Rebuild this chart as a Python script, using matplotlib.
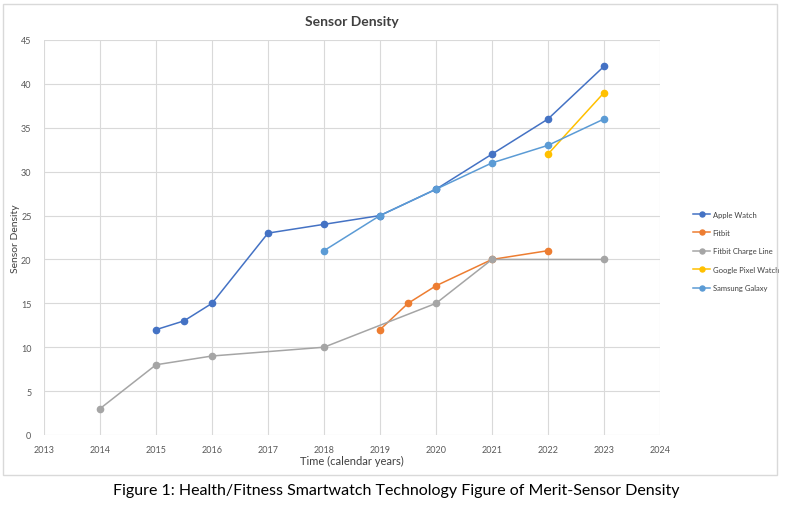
import matplotlib.pyplot as plt
from matplotlib.patches import Rectangle

# data
apple_x = [2015, 2015.5, 2016, 2017, 2018, 2019, 2020, 2021, 2022, 2023]
apple_y = [12, 13, 15, 23, 24, 25, 28, 32, 36, 42]
fitbit_x = [2019, 2019.5, 2020, 2021, 2022]
fitbit_y = [12, 15, 17, 20, 21]
charge_x = [2014, 2015, 2016, 2018, 2020, 2021, 2023]
charge_y = [3, 8, 9, 10, 15, 20, 20]
pixel_x = [2022, 2023]
pixel_y = [32, 39]
samsung_x = [2018, 2019, 2020, 2021, 2022, 2023]
samsung_y = [21, 25, 28, 31, 33, 36]

series = [
    ('Apple Watch', apple_x, apple_y, '#4472C4'),
    ('Fitbit', fitbit_x, fitbit_y, '#ED7D31'),
    ('Fitbit Charge Line', charge_x, charge_y, '#A5A5A5'),
    ('Google Pixel Watch', pixel_x, pixel_y, '#FFC000'),
    ('Samsung Galaxy', samsung_x, samsung_y, '#5B9BD5'),
]

plt.rcParams['font.family'] = ['Lato', 'DejaVu Sans']

fig = plt.figure(figsize=(7.92, 5.06), dpi=100)
W, H = 792, 506

# outer chart frame
fig.patches.append(Rectangle((3 / W, 1 - 476 / H), 774 / W, 471 / H,
                             transform=fig.transFigure, fill=False,
                             edgecolor='#D9D9D9', linewidth=1))

ax = fig.add_axes([44 / W, 1 - 436 / H, 616 / W, 395 / H])
for name, xs, ys, c in series:
    ax.plot(xs, ys, '-o', color=c, lw=1.1, ms=4.5, label=name, zorder=3)

ax.set_xlim(2013, 2024)
ax.set_ylim(0, 45)
ax.set_xticks(range(2013, 2025))
ax.set_yticks(range(0, 46, 5))
ax.grid(True, color='#D9D9D9', lw=0.8)
ax.set_axisbelow(True)
for s in ax.spines.values():
    s.set_visible(False)
ax.tick_params(length=0, labelsize=6.5, labelcolor='#595959', pad=7)
ax.tick_params(axis='y', pad=9)

ax.set_title('Sensor Density', fontsize=10, fontweight='bold', color='#404040', pad=11)
ax.set_xlabel('Time (calendar years)', fontsize=8, color='#404040', labelpad=1)
ax.set_ylabel('Sensor Density', fontsize=7.5, color='#404040')
ax.yaxis.set_label_coords(-24 / 616, 0.5)

ax.legend(loc='center left', bbox_to_anchor=(686 / W, 1 - 252 / H),
          bbox_transform=fig.transFigure, frameon=False, fontsize=5.5,
          labelcolor='#404040', handlelength=2.3, labelspacing=1.5,
          handletextpad=0.3, markerscale=0.8)

fig.text(0.5, 1 - 491 / H,
         'Figure 1: Health/Fitness Smartwatch Technology Figure of Merit-Sensor Density',
         ha='center', va='center', fontsize=11.5)

fig.savefig('out.png', dpi=100)
